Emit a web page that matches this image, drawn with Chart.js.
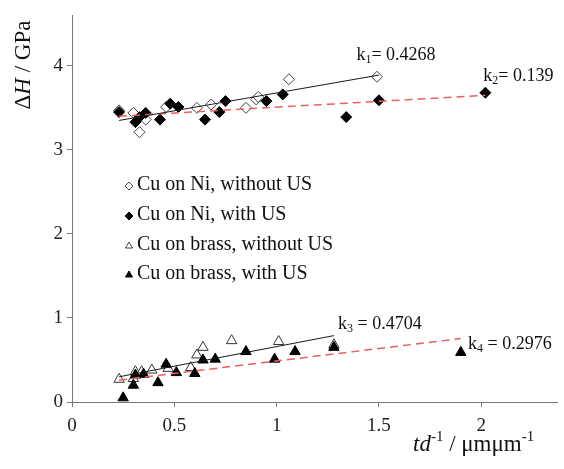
<!DOCTYPE html>
<html>
<head>
<meta charset="utf-8">
<script src="https://cdn.jsdelivr.net/npm/chart.js@4.4.1/dist/chart.umd.min.js"></script>
<style>
  body { margin: 0; background: #fff; }
  #wrap { width: 564px; height: 469px; }
</style>
</head>
<body>
<div id="wrap"><canvas id="hardness" width="564" height="469"></canvas></div>
<script>
// values
const niNoUsX = [0.23, 0.30, 0.33, 0.36, 0.46, 0.61, 0.68, 0.85, 0.90, 0.91, 1.06, 1.49];
const niNoUsY = [3.47, 3.44, 3.21, 3.36, 3.51, 3.50, 3.54, 3.50, 3.60, 3.63, 3.84, 3.87];
const niUsX = [0.23, 0.31, 0.33, 0.36, 0.43, 0.48, 0.52, 0.65, 0.72, 0.75, 0.95, 1.03, 1.34, 1.50, 2.02];
const niUsY = [3.45, 3.33, 3.39, 3.44, 3.36, 3.55, 3.51, 3.36, 3.45, 3.58, 3.58, 3.66, 3.39, 3.59, 3.68];
const brassNoUsX = [0.23, 0.30, 0.31, 0.34, 0.39, 0.47, 0.58, 0.61, 0.64, 0.78, 1.01, 1.28];
const brassNoUsY = [0.27, 0.28, 0.36, 0.36, 0.38, 0.40, 0.41, 0.56, 0.65, 0.73, 0.72, 0.68];
const brassUsX = [0.25, 0.30, 0.31, 0.35, 0.42, 0.46, 0.51, 0.60, 0.64, 0.70, 0.85, 0.99, 1.09, 1.28, 1.90];
const brassUsY = [0.05, 0.20, 0.32, 0.33, 0.23, 0.45, 0.35, 0.34, 0.50, 0.51, 0.60, 0.51, 0.60, 0.65, 0.59];

// trend line end points
const fitK1X = [0.23, 1.50], fitK1Y = [3.35, 3.89];
const fitK2X = [0.23, 2.02], fitK2Y = [3.40, 3.65];
const fitK3X = [0.23, 1.28], fitK3Y = [0.30, 0.79];
const fitK4X = [0.23, 1.90], fitK4Y = [0.26, 0.755];

const seriesLabels = ["Cu on Ni, without US", "Cu on Ni, with US", "Cu on brass, without US", "Cu on brass, with US"];
const slopeNames = ["1", "2", "3", "4"];
const slopeValues = ["0.4268", "0.139", "0.4704", "0.2976"];
const xTicks = [0, 0.5, 1, 1.5, 2];
const yTicks = [0, 1, 2, 3, 4];

const serif = "'Liberation Serif', 'Times New Roman', serif";
const redLine = "#e8605f";

function pts(xs, ys) {
    return xs.map((v, i) => ({ x: v, y: ys[i] }));
}

function fitLine(xs, ys, color, dashed) {
    return {
        type: "line",
        data: pts(xs, ys),
        borderColor: color,
        borderWidth: dashed ? 1.5 : 1,
        borderDash: dashed ? [8, 5] : [],
        pointRadius: 0,
        fill: false,
        order: 0
    };
}

// where the k labels sit (data coords)
const slopeSpots = [
    { x: 1.39, y: 4.13, gap: false },
    { x: 2.01, y: 3.88, gap: false },
    { x: 1.30, y: 0.93, gap: true },
    { x: 1.935, y: 0.69, gap: true }
];

function drawMarker(ctx, kind, filled, cx, cy, r) {
    ctx.beginPath();
    if (kind === "diamond") {
        ctx.moveTo(cx, cy - r);
        ctx.lineTo(cx + r, cy);
        ctx.lineTo(cx, cy + r);
        ctx.lineTo(cx - r, cy);
    } else {
        ctx.moveTo(cx, cy - r);
        ctx.lineTo(cx + r * 0.87, cy + r * 0.5);
        ctx.lineTo(cx - r * 0.87, cy + r * 0.5);
    }
    ctx.closePath();
    ctx.fillStyle = filled ? "#000" : "#fff";
    ctx.fill();
    ctx.strokeStyle = filled ? "#000" : "#444";
    ctx.lineWidth = 1;
    ctx.stroke();
}

const overlay = {
    id: "overlay",
    afterDraw(chart) {
        const ctx = chart.ctx;
        const xs = chart.scales.x, ys = chart.scales.y;
        ctx.save();
        ctx.fillStyle = "#111";
        ctx.textBaseline = "middle";

        // legend
        const kinds = [["diamond", false], ["diamond", true], ["triangle", false], ["triangle", true]];
        const rowY = [185, 215, 245, 274];
        ctx.font = "20px " + serif;
        seriesLabels.forEach((lab, i) => {
            drawMarker(ctx, kinds[i][0], kinds[i][1], 129, rowY[i] + 1, 4);
            ctx.fillStyle = "#111";
            ctx.fillText(lab, 137, rowY[i]);
        });

        // slope labels
        slopeSpots.forEach((s, i) => {
            let px = xs.getPixelForValue(s.x);
            const py = ys.getPixelForValue(s.y);
            ctx.font = "18px " + serif;
            ctx.fillText("k", px, py);
            px += ctx.measureText("k").width;
            ctx.font = "12px " + serif;
            ctx.fillText(slopeNames[i], px, py + 5);
            px += ctx.measureText(slopeNames[i]).width;
            ctx.font = "18px " + serif;
            const rest = (s.gap ? " = " : "= ") + slopeValues[i];
            ctx.fillText(rest, px, py);
        });

        // y title, rotated
        ctx.save();
        ctx.translate(24, 65);
        ctx.rotate(-Math.PI / 2);
        const yParts = [["Δ", ""], ["H", "italic "], [" / GPa", ""]];
        let w = 0;
        yParts.forEach(p => { ctx.font = p[1] + "23px " + serif; w += ctx.measureText(p[0]).width; });
        let tx = -w / 2;
        yParts.forEach(p => {
            ctx.font = p[1] + "23px " + serif;
            ctx.fillText(p[0], tx, 0);
            tx += ctx.measureText(p[0]).width;
        });
        ctx.restore();

        // x title with superscripts
        const xParts = [["td", "italic ", 23, 0], ["-1", "", 15, -8], [" / μmμm", "", 23, 0], ["-1", "", 15, -8]];
        let ux = 413;
        const uy = 445;
        xParts.forEach(p => {
            ctx.font = p[1] + p[2] + "px " + serif;
            ctx.fillText(p[0], ux, uy + p[3]);
            ux += ctx.measureText(p[0]).width;
        });
        ctx.restore();
    }
};

const onlyListed = list => scale => {
    scale.ticks = list.map(v => ({ value: v }));
};

new Chart(document.getElementById("hardness"), {
    type: "scatter",
    data: {
        datasets: [
            fitLine(fitK1X, fitK1Y, "#1a1a1a", false),
            fitLine(fitK2X, fitK2Y, redLine, true),
            fitLine(fitK3X, fitK3Y, "#1a1a1a", false),
            fitLine(fitK4X, fitK4Y, redLine, true),
            {
                label: seriesLabels[1], data: pts(niUsX, niUsY), pointStyle: "rectRot",
                pointRadius: 5.5, backgroundColor: "#000", borderColor: "#000", borderWidth: 1, order: 1
            },
            {
                label: seriesLabels[3], data: pts(brassUsX, brassUsY), pointStyle: "triangle",
                pointRadius: 6, backgroundColor: "#000", borderColor: "#000", borderWidth: 1, order: 1
            },
            {
                label: seriesLabels[0], data: pts(niNoUsX, niNoUsY), pointStyle: "rectRot",
                pointRadius: 5.5, backgroundColor: "#fff", borderColor: "#444", borderWidth: 1, order: 2
            },
            {
                label: seriesLabels[2], data: pts(brassNoUsX, brassNoUsY), pointStyle: "triangle",
                pointRadius: 6, backgroundColor: "#fff", borderColor: "#333", borderWidth: 1, order: 2
            }
        ]
    },
    options: {
        responsive: false,
        animation: false,
        layout: { padding: { top: 12, right: 0, left: 0, bottom: 0 } },
        plugins: {
            legend: { display: false },
            tooltip: { enabled: false }
        },
        scales: {
            x: {
                type: "linear",
                min: 0,
                max: 2.37,
                afterBuildTicks: onlyListed(xTicks),
                afterFit: s => { s.height = 67; },
                grid: { drawOnChartArea: false, tickLength: 5, tickColor: "#777" },
                border: { color: "#777" },
                ticks: { color: "#222", font: { family: serif, size: 19 }, padding: 8, callback: v => String(v) }
            },
            y: {
                min: 0,
                max: 4.6,
                afterBuildTicks: onlyListed(yTicks),
                afterFit: s => { s.width = 72; },
                grid: { drawOnChartArea: false, tickLength: 5, tickColor: "#777" },
                border: { color: "#777" },
                ticks: { color: "#222", font: { family: serif, size: 19 }, padding: 4, callback: v => String(v) }
            }
        }
    },
    plugins: [overlay]
});
</script>
</body>
</html>
